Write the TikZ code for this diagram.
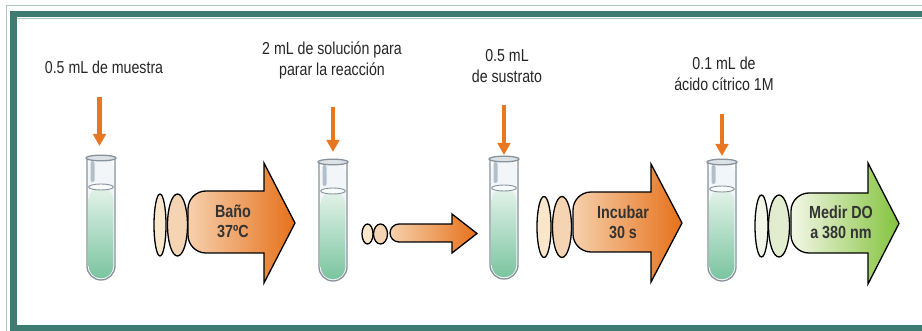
\documentclass[tikz,border=0pt]{standalone}
\usepackage{fontspec}
\setmainfont{Liberation Sans}[FakeStretch=0.82]
\usetikzlibrary{arrows.meta}

\definecolor{frameteal}{HTML}{3E7B70}
\definecolor{framelight}{HTML}{AFC7C0}
\definecolor{droporange}{HTML}{E87722}
\definecolor{peachlight}{HTML}{F6D0AC}
\definecolor{orangedeep}{HTML}{E6711A}
\definecolor{greenlight}{HTML}{F3F7E6}
\definecolor{greendeep}{HTML}{84C33E}
\definecolor{creamA}{HTML}{FAE7CB}
\definecolor{creamB}{HTML}{F4D4B3}
\definecolor{mintA}{HTML}{F2F6E8}
\definecolor{mintB}{HTML}{E2ECCF}
\definecolor{glassline}{HTML}{87929C}
\definecolor{glassfill}{HTML}{F3F6F8}
\definecolor{glassstripe}{HTML}{B3BFC8}
\definecolor{liquidtop}{HTML}{E4F3EA}
\definecolor{liquidbot}{HTML}{7AC49F}
\definecolor{textdark}{HTML}{262626}
\definecolor{textbold}{HTML}{333333}

% test tube: #1 name, #2 left x, #3 top y, #4 bottom y, #5 liquid level
\newcommand\tubo[5]{%
  \pgfmathsetmacro\tR{#2+28}%
  \pgfmathsetmacro\tC{#2+14}%
  \pgfmathsetmacro\lL{#2+1.7}%
  \pgfmathsetmacro\lR{#2+26.3}%
  \pgfmathsetmacro\lB{#4-1.7}%
  \pgfmathsetmacro\sL{#2+3.5}%
  \pgfmathsetmacro\sR{#2+7.5}%
  \pgfmathsetmacro\sT{#3+3}%
  \pgfmathsetmacro\sB{#5-5}%
  \fill[glassfill,rounded corners=14pt] (#2,#3) -- (#2,#4) -- (\tR,#4) -- (\tR,#3) -- cycle;
  \shade[top color=liquidtop,bottom color=liquidbot,rounded corners=12.3pt]
    (\lL,#5) -- (\lL,\lB) -- (\lR,\lB) -- (\lR,#5) -- cycle;
  \fill[glassstripe,rounded corners=2pt] (\sL,\sT) -- (\sL,\sB) -- (\sR,\sB) -- (\sR,\sT) -- cycle;
  \draw[glassline,line width=0.9pt,fill=white!70!liquidtop] (\tC,#5) ellipse [x radius=12.3,y radius=3];
  \draw[glassline,line width=1.3pt,rounded corners=14pt] (#2,#3) -- (#2,#4) -- (\tR,#4) -- (\tR,#3);
  \draw[glassline,line width=1.3pt,fill=glassfill!80!glassline] (\tC,#3) ellipse [x radius=15,y radius=2.8];
  \node[tubemark,minimum height={(#4-#3)*1pt},anchor=north] (#1) at (\tC,#3) {};
}

% block arrow: #1 style, #2 left, #3 body top, #4 body bottom, #5 head base,
% #6 head top, #7 head bottom, #8 tip x, #9 corner radius of the tail
\newcommand\flecha[9]{%
  \pgfmathsetmacro\fa{#2+#9}%
  \pgfmathsetmacro\fc{#2+0.448*#9}%
  \pgfmathsetmacro\fb{#4-#9}%
  \pgfmathsetmacro\fbc{#4-0.448*#9}%
  \pgfmathsetmacro\ft{#3+#9}%
  \pgfmathsetmacro\ftc{#3+0.448*#9}%
  \pgfmathsetmacro\fy{(#6+#7)/2}%
  \draw[#1] (#5,#3) -- (#5,#6) -- (#8,\fy) -- (#5,#7) -- (#5,#4) -- (\fa,#4)
    .. controls (\fc,#4) and (#2,\fbc) .. (#2,\fb) -- (#2,\ft)
    .. controls (#2,\ftc) and (\fc,#3) .. (\fa,#3) -- cycle;
}

\tikzset{
  tubemark/.style={inner sep=0pt,minimum width=28pt},
  note/.style={align=center,inner sep=0pt,text=textdark,
    font=\fontsize{17.3}{20.5}\selectfont},
  steptext/.style={align=center,inner sep=0pt,text=textbold,
    font=\fontsize{17.5}{20}\selectfont\bfseries},
  drop/.style={droporange,line width=4.5pt,
    -{Triangle[width=12.5pt,length=12pt]}},
  outline/.style={draw=black,line width=1.3pt,line join=miter},
  orangearrow/.style={outline,left color=peachlight,right color=orangedeep},
  greenarrow/.style={outline,left color=greenlight,right color=greendeep},
  lensA/.style={outline,fill=creamA},
  lensB/.style={outline,fill=creamB},
  glensA/.style={outline,fill=mintA},
  glensB/.style={outline,fill=mintB},
}

\begin{document}
\begin{tikzpicture}[x=1pt,y=-1pt]
\useasboundingbox (0,0) rectangle (922,331);
\fill[white] (0,0) rectangle (922,331);

% frame
\draw[framelight,line width=1pt] (6,331) -- (6,6) -- (922,6);
\fill[frameteal] (10,11) rectangle (922,17.5);
\fill[frameteal] (10,11) rectangle (16.5,331);
\fill[frameteal] (10,325.5) rectangle (922,331);
\draw[framelight,line width=0.6pt] (16.5,18) -- (922,18);

% labels over the tubes
\node[note] (n1) at (104,67) {0.5 mL de muestra};
\node[note] (n2) at (332,60.5) {2 mL de solución para\\parar la reacción};
\node[note] (n3) at (507,66) {0.5 mL\\de sustrato};
\node[note] (n4) at (724,74) {0.1 mL de\\ácido cítrico 1M};

% test tubes
\tubo{t1}{87}{158}{280}{187}
\tubo{t2}{319}{162}{281}{191}
\tubo{t3}{490}{159}{279}{188}
\tubo{t4}{708}{162}{281}{189}

% additions into the tubes
\coordinate (d1s) at (99.5,97);  \coordinate (d1e) at (99.5,146);
\coordinate (d2s) at (333,107);  \coordinate (d2e) at (333,152);
\coordinate (d3s) at (504,105);  \coordinate (d3e) at (504,155);
\coordinate (d4s) at (722,114);  \coordinate (d4e) at (722,156);
\draw[drop] (d1s) -- (d1e);
\draw[drop] (d2s) -- (d2e);
\draw[drop] (d3s) -- (d3e);
\draw[drop] (d4s) -- (d4e);

% step 1: bath
\draw[lensA] (160,225) ellipse [x radius=6,y radius=31];
\draw[lensB] (177.5,225) ellipse [x radius=10,y radius=31];
\flecha{orangearrow}{188}{191}{253}{264}{163}{283}{295}{18}
\node[steptext] (s1) at (233,221) {Baño\\37ºC};

% transfer
\draw[lensA] (367.5,234) ellipse [x radius=5.5,y radius=10];
\draw[lensB] (380.5,234) ellipse [x radius=7,y radius=10];
\flecha{orangearrow}{390}{224}{242}{452}{214}{253}{477}{9}

% step 2: incubation
\draw[lensA] (544,227) ellipse [x radius=7,y radius=30.5];
\draw[lensB] (562,227) ellipse [x radius=9.5,y radius=30.5];
\flecha{orangearrow}{573}{192}{252}{651}{164}{282}{682}{18}
\node[steptext] (s2) at (623,222) {Incubar\\30 s};

% step 3: reading
\draw[glensA] (761.5,226) ellipse [x radius=6.5,y radius=31];
\draw[glensB] (779,226) ellipse [x radius=10.5,y radius=31];
\flecha{greenarrow}{791}{193}{253}{868}{163}{284}{899}{18}
\node[steptext] (s3) at (841,222) {Medir DO\\a 380 nm};
\end{tikzpicture}
\end{document}
